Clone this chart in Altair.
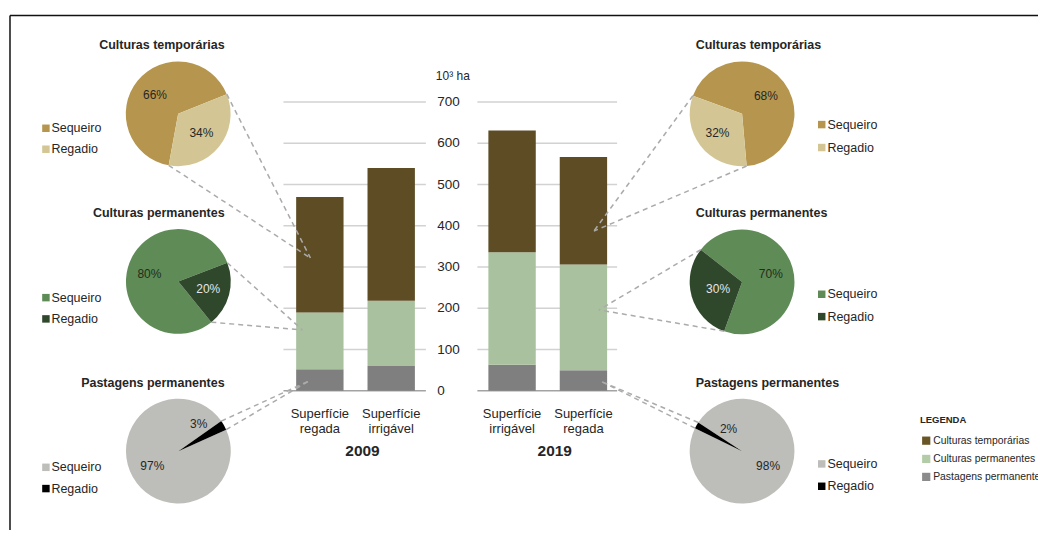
import math
import altair as alt
import pandas as pd

# ---------------- data ----------------
years = ["2009", "2009", "2019", "2019"]
surfaces = ["Superfície\nregada", "Superfície\nirrigável", "Superfície\nirrigável", "Superfície\nregada"]
slots = [1, 2, 1, 2]
components = ["Culturas temporárias", "Culturas permanentes", "Pastagens permanentes"]
temp_vals = [280, 322, 295, 261]
perm_vals = [138, 158, 273, 256]
past_vals = [52, 60, 63, 50]
y_ticks = [0, 100, 200, 300, 400, 500, 600, 700]

pie_titles = ["Culturas temporárias", "Culturas permanentes", "Pastagens permanentes"]
parts = ["Sequeiro", "Regadio"]
seq_2009 = [66, 80, 97]
reg_2009 = [34, 20, 3]
seq_2019 = [68, 70, 98]
reg_2019 = [32, 30, 2]

# ---------------- style / layout ----------------
FONT = "Liberation Sans"
TXT = "#262626"
M = 8  # page margin


def P(v):
    return v - M


bar_colors = ["#5d4c24", "#aac19f", "#7f7f7f"]
legend_colors = ["#6a5527", "#b3cca7", "#8b8b8b"]
pie_colors = [["#b6964f", "#d3c694"], ["#5f8b57", "#2f472b"], ["#bdbdb9", "#000000"]]
pie_label_colors = [[TXT, TXT], ["#1f2e1c", "#e6e6e6"], [TXT, TXT]]

one = pd.DataFrame({"a": [0]})

xscale = alt.Scale(domain=["2009", "2019"], range=[251.9, 637.1], paddingInner=0, paddingOuter=0)
xoff_scale = alt.Scale(domain=[1, 2], paddingInner=0.336, paddingOuter=0.515)
yscale = alt.Scale(domain=[0, 700], range=[383, 93.7], nice=False, zero=False)

layers = []

# border
layers.append(alt.Chart(one).mark_rule(color="#111", strokeWidth=1.5).encode(
    x=alt.value(2), x2=alt.value(2), y=alt.value(7), y2=alt.value(530)))
layers.append(alt.Chart(one).mark_rule(color="#111", strokeWidth=1.5).encode(
    x=alt.value(2), x2=alt.value(1032), y=alt.value(7), y2=alt.value(7)))

# gridlines
ticks_df = pd.DataFrame({"tick": y_ticks})
for gx1, gx2 in [(284, 426.7), (478.3, 618.3)]:
    layers.append(alt.Chart(ticks_df).mark_rule(strokeWidth=1.4).encode(
        y=alt.Y("tick:Q", scale=yscale, axis=None),
        x=alt.value(P(gx1)), x2=alt.value(P(gx2)),
        color=alt.condition("datum.tick == 0", alt.value("#a3a3a3"), alt.value("#d2d2d2"))))

# axis labels
layers.append(alt.Chart(ticks_df).mark_text(align="left", baseline="middle", fontSize=13.5,
                                            font=FONT, color=TXT).encode(
    y=alt.Y("tick:Q", scale=yscale, axis=None), x=alt.value(P(438)), text=alt.Text("tick:Q")))
layers.append(alt.Chart(one).mark_text(align="left", baseline="middle", fontSize=12,
                                       font=FONT, color=TXT, text="10³ ha").encode(
    x=alt.value(P(436.7)), y=alt.value(P(76))))

# bars
rows = []
for i in range(4):
    for comp, vals, o in [(components[2], past_vals, 0), (components[1], perm_vals, 1),
                          (components[0], temp_vals, 2)]:
        rows.append(dict(year=years[i], slot=slots[i], comp=comp, value=vals[i], ord=o))
bars_df = pd.DataFrame(rows)
layers.append(alt.Chart(bars_df).mark_bar().encode(
    x=alt.X("year:N", scale=xscale, axis=None),
    xOffset=alt.XOffset("slot:O", scale=xoff_scale),
    y=alt.Y("value:Q", stack="zero", scale=yscale, axis=None),
    color=alt.Color("comp:N", scale=alt.Scale(domain=components, range=bar_colors), legend=None),
    order=alt.Order("ord:Q")))

# category labels
cat_df = pd.DataFrame({"year": years, "slot": slots, "surface": surfaces})
layers.append(alt.Chart(cat_df).mark_text(lineBreak="\n", lineHeight=15, fontSize=13, font=FONT,
                                          color=TXT, baseline="middle").encode(
    x=alt.X("year:N", scale=xscale, axis=None),
    xOffset=alt.XOffset("slot:O", scale=xoff_scale),
    y=alt.value(P(414.2)), text="surface:N"))
year_df = pd.DataFrame({"year": ["2009", "2019"]})
layers.append(alt.Chart(year_df).mark_text(fontSize=15.5, fontWeight="bold", font=FONT, color=TXT,
                                           baseline="middle", dx=7).encode(
    x=alt.X("year:N", scale=xscale, axis=None), y=alt.value(P(451.7)), text="year:N"))


# pies
def pie(cx, cy, rot, seq, reg, k, lab_off, lab_r):
    df = pd.DataFrame({"part": parts, "pct": [seq, reg], "ord": [1, 0],
                       "label": [f"{seq}%", f"{reg}%"]})
    r0 = math.radians(rot)
    tsc = alt.Scale(domain=[0, 100], range=[r0, r0 + 2 * math.pi])
    r1 = math.radians(rot + lab_off)
    tsc_lab = alt.Scale(domain=[0, 100], range=[r1, r1 + 2 * math.pi])
    arc = alt.Chart(df).mark_arc(radius=52.5).encode(
        theta=alt.Theta("pct:Q", stack=True, scale=tsc),
        order=alt.Order("ord:Q"),
        color=alt.Color("part:N", scale=alt.Scale(domain=parts, range=pie_colors[k]), legend=None),
        x=alt.value(P(cx)), y=alt.value(P(cy)))
    lab_seq = alt.Chart(df).mark_text(radius=30, fontSize=12, font=FONT,
                                      color=pie_label_colors[k][0]).encode(
        theta=alt.Theta("pct:Q", stack=True, scale=tsc),
        order=alt.Order("ord:Q"),
        text=alt.condition("datum.part == 'Sequeiro'", alt.Text("label:N"), alt.value("")),
        x=alt.value(P(cx)), y=alt.value(P(cy)))
    lab_reg = alt.Chart(df).mark_text(radius=lab_r, fontSize=12, font=FONT,
                                      color=pie_label_colors[k][1]).encode(
        theta=alt.Theta("pct:Q", stack=True, scale=tsc_lab),
        order=alt.Order("ord:Q"),
        text=alt.condition("datum.part == 'Regadio'", alt.Text("label:N"), alt.value("")),
        x=alt.value(P(cx)), y=alt.value(P(cy)))
    return alt.layer(arc, lab_seq, lab_reg).resolve_scale(theta="independent")


left_centers = [(178.5, 113.5, 68), (178.7, 281.5, 69), (178.7, 451.5, 55)]
right_centers = [(743.5, 113.5, 175), (743.5, 282, 200), (743.5, 451.5, 296)]
left_lab = [(0, 30), (0, 31), (-23.5, 34)]
right_lab = [(0, 31), (0, 25), (29, 26)]
title_ys = [45, 213.3, 383.3]
left_leg_ys = [(128, 149), (297.7, 319), (467.7, 489)]
right_leg_ys = [(124.3, 147.3), (294.3, 316.7), (464.3, 486.7)]

for k in range(3):
    cx, cy, rot = left_centers[k]
    layers.append(pie(cx, cy, rot, seq_2009[k], reg_2009[k], k, *left_lab[k]))
    cx, cy, rot = right_centers[k]
    layers.append(pie(cx, cy, rot, seq_2019[k], reg_2019[k], k, *right_lab[k]))
    # titles
    layers.append(alt.Chart(one).mark_text(align="right", baseline="middle", fontSize=12.5,
                                           fontWeight="bold", font=FONT, color=TXT,
                                           text=pie_titles[k]).encode(
        x=alt.value(P(225)), y=alt.value(P(title_ys[k]))))
    layers.append(alt.Chart(one).mark_text(align="left", baseline="middle", fontSize=12.5,
                                           fontWeight="bold", font=FONT, color=TXT,
                                           text=pie_titles[k]).encode(
        x=alt.value(P(697)), y=alt.value(P(title_ys[k]))))
    # small legends
    for j in range(2):
        for sx, tx, ys in [(46, 51.5, left_leg_ys[k]), (823.3, 829, right_leg_ys[k])]:
            layers.append(alt.Chart(one).mark_square(size=56, color=pie_colors[k][j], opacity=1).encode(
                x=alt.value(P(sx)), y=alt.value(P(ys[j]))))
            layers.append(alt.Chart(one).mark_text(align="left", baseline="middle", fontSize=12.5,
                                                   font=FONT, color=TXT, text=parts[j]).encode(
                x=alt.value(P(tx)), y=alt.value(P(ys[j]))))


# connectors
def edge(cx, cy, ang):
    a = math.radians(ang)
    return cx + 52.5 * math.sin(a), cy - 52.5 * math.cos(a)


conn = []
allpcts = [(left_centers, reg_2009, [(311, 258), (303, 330), (310, 381)]),
           (right_centers, reg_2019, [(595, 231), (600, 310), (603, 382)])]
for centers, regs, targets in allpcts:
    for k in range(3):
        cx, cy, rot = centers[k]
        p1 = edge(cx, cy, rot)
        p2 = edge(cx, cy, rot + regs[k] * 3.6)
        for p in (p1, p2):
            conn.append((p[0], p[1], targets[k][0], targets[k][1]))
for x1, y1, x2, y2 in conn:
    layers.append(alt.Chart(one).mark_rule(strokeDash=[5, 4], color="#ababab", strokeWidth=1.5).encode(
        x=alt.value(P(x1)), y=alt.value(P(y1)), x2=alt.value(P(x2)), y2=alt.value(P(y2))))

# main legend
layers.append(alt.Chart(one).mark_text(align="left", baseline="middle", fontSize=9.5, fontWeight="bold",
                                       font=FONT, color=TXT, text="LEGENDA").encode(
    x=alt.value(P(921.7)), y=alt.value(P(420.7))))
for j, yy in enumerate([441, 459.3, 477.3]):
    layers.append(alt.Chart(one).mark_square(size=68, color=legend_colors[j], opacity=1).encode(
        x=alt.value(P(928)), y=alt.value(P(yy))))
    layers.append(alt.Chart(one).mark_text(align="left", baseline="middle", fontSize=10.4, font=FONT,
                                           color=TXT, text=components[j], clip=True).encode(
        x=alt.value(P(935)), y=alt.value(P(yy))))

chart = alt.layer(*layers).resolve_scale(theta="independent", color="independent").properties(
    width=1032, height=522, autosize=alt.AutoSizeParams(type="none"), padding=0, background="white"
).configure_view(stroke=None)

chart.save("out.html", embed_options={"renderer": "svg", "actions": False})
